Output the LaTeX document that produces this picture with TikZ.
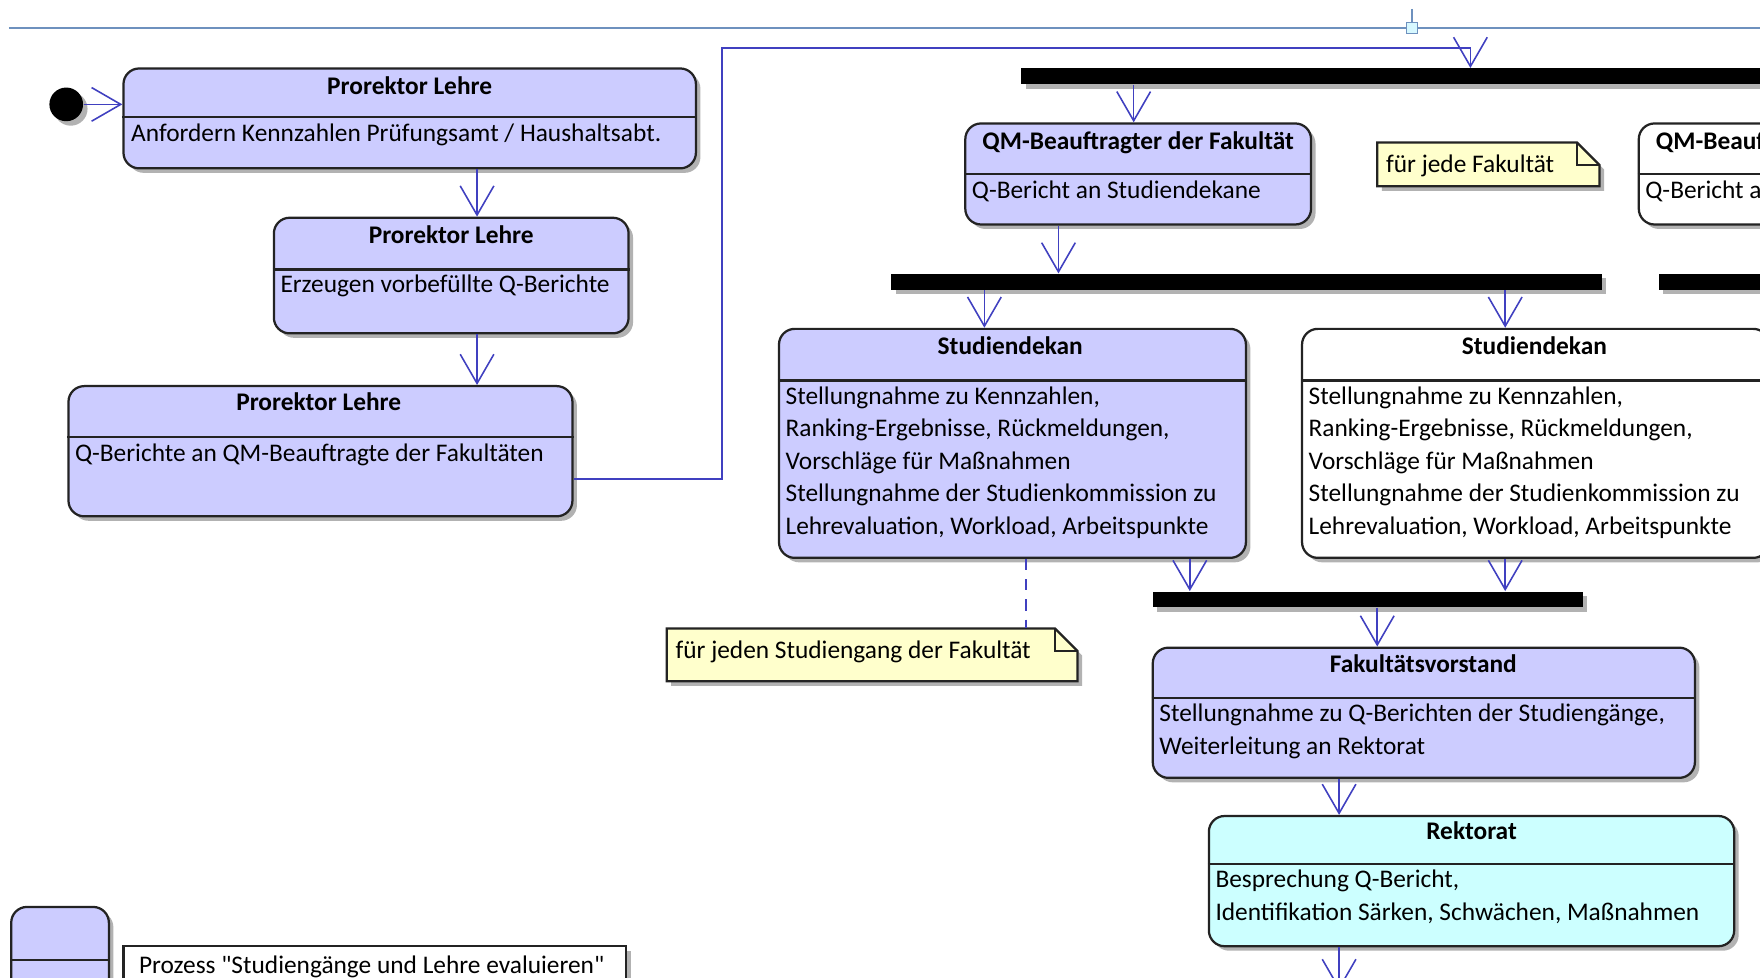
\documentclass[tikz,border=0pt]{standalone}
\usepackage{fontspec}
\setmainfont{Carlito}
\usetikzlibrary{arrows.meta,fit,shadows}

\definecolor{stateFill}{RGB}{204,204,255}
\definecolor{rektoratFill}{RGB}{204,255,255}
\definecolor{noteFill}{RGB}{255,255,204}
\definecolor{flowBlue}{RGB}{64,64,192}
\definecolor{pageLine}{RGB}{110,145,190}
\definecolor{handleFill}{RGB}{215,248,255}
\definecolor{boxLine}{RGB}{35,35,35}

\begin{document}
\begin{tikzpicture}[x=0.5pt,y=0.5pt,yscale=-1,xscale=1,
  every node/.style={font=\fontsize{11.3}{14.5}\selectfont},
  softshadow/.style={drop shadow={shadow xshift=2pt,shadow yshift=-2pt,opacity=0.3,fill=black}},
  state/.style={draw=boxLine, line width=1pt, rounded corners=7pt, fill=stateFill, inner sep=0pt, softshadow},
  divider/.style={draw=boxLine, line width=1pt},
  title/.style={anchor=base, inner sep=0.75pt, font=\fontsize{11.3}{14.5}\selectfont\bfseries},
  body/.style={anchor=base west, inner sep=0.75pt, align=left},
  bar/.style={fill=black, inner sep=0pt, softshadow},
  initial/.style={circle, fill=black, minimum size=15pt, inner sep=0pt, softshadow},
  flow/.style={draw=flowBlue, line width=0.7pt, -{Straight Barb[length=13pt,width=15pt]}},
  notelink/.style={draw=flowBlue, line width=0.7pt, dash pattern=on 5pt off 4pt},
  note/.style={draw=boxLine, line width=1pt, fill=noteFill, softshadow},
  handle/.style={draw=pageLine, fill=handleFill, line width=0.6pt, minimum size=5pt, inner sep=0pt}]

\useasboundingbox (0,0) rectangle (1568,870.5);
\fill [white] (0,0) rectangle (1568,870.5);
\clip (0,0) rectangle (1568,870.5);

%Page line with handle
\draw [pageLine, line width=0.6pt] (8,25) -- (1568,25) ;
\draw [pageLine, line width=0.6pt] (1258,8) -- (1258,21) ;
\node [handle] (hdl) at (1258,25) {} ;

%Initial state
\node [initial] (start) at (59,93) {} ;

%State: Prorektor Lehre (1)
\node [state, fit={(110,61) (620,150)}] (pl1) {} ;
\draw [divider] (pl1.west |- 0,104) -- (pl1.east |- 0,104) ;
\node [title] (pl1t) at (365,84) {Prorektor Lehre} ;
\node [body] (pl1b) at (115,126) {Anfordern Kennzahlen Prüfungsamt / Haushaltsabt.} ;

%State: Prorektor Lehre (2)
\node [state, fit={(244,194) (560,297)}] (pl2) {} ;
\draw [divider] (pl2.west |- 0,240) -- (pl2.east |- 0,240) ;
\node [title] (pl2t) at (402,217) {Prorektor Lehre} ;
\node [body] (pl2b) at (248,261) {Erzeugen vorbefüllte Q-Berichte} ;

%State: Prorektor Lehre (3)
\node [state, fit={(61,344) (510,460)}] (pl3) {} ;
\draw [divider] (pl3.west |- 0,389) -- (pl3.east |- 0,389) ;
\node [title] (pl3t) at (284,366) {Prorektor Lehre} ;
\node [body] (pl3b) at (65,411) {Q-Berichte an QM-Beauftragte der Fakultäten} ;

%Fork bars
\node [bar, fit={(910,61) (1600,75)}] (bar1) {} ;
\node [bar, fit={(794,244) (1427,258)}] (bar2) {} ;
\node [bar, fit={(1478,244) (1600,258)}] (bar3) {} ;
\node [bar, fit={(1027,527) (1410,541)}] (bar4) {} ;

%State: QM-Beauftragter (1)
\node [state, fit={(860,110) (1168,200)}] (qm1) {} ;
\draw [divider] (qm1.west |- 0,155) -- (qm1.east |- 0,155) ;
\node [title] (qm1t) at (1014,133) {QM-Beauftragter der Fakultät} ;
\node [body] (qm1b) at (864,177) {Q-Bericht an Studiendekane} ;

%State: QM-Beauftragter (2)
\node [state, fill=white, fit={(1460,110) (1768,200)}] (qm2) {} ;
\draw [divider] (qm2.west |- 0,155) -- (qm2.east |- 0,155) ;
\node [title] (qm2t) at (1614,133) {QM-Beauftragter der Fakultät} ;
\node [body] (qm2b) at (1464,177) {Q-Bericht an Studiendekane} ;

%Note: jede Fakultaet
\node [inner sep=0pt, fit={(1227,127) (1425,166)}] (note1) {} ;
\draw [note] (1227,127) -- (1405,127) -- (1425,147) -- (1425,166) -- (1227,166) -- cycle ;
\draw [draw=boxLine, line width=1pt] (1405,127) -- (1405,147) -- (1425,147) ;
\node [body] (note1t) at (1233,154) {für jede Fakultät} ;

%State: Studiendekan (1)
\node [state, fit={(694,293) (1110,497)}] (sd1) {} ;
\draw [divider] (sd1.west |- 0,339) -- (sd1.east |- 0,339) ;
\node [title] (sd1t) at (900,316) {Studiendekan} ;
\node [body] (sd1b) at (698,476) {Stellungnahme zu Kennzahlen,\\Ranking-Ergebnisse, Rückmeldungen,\\Vorschläge für Maßnahmen\\Stellungnahme der Studienkommission zu\\Lehrevaluation, Workload, Arbeitspunkte} ;

%State: Studiendekan (2)
\node [state, fill=white, fit={(1160,293) (1576,497)}] (sd2) {} ;
\draw [divider] (sd2.west |- 0,339) -- (sd2.east |- 0,339) ;
\node [title] (sd2t) at (1367,316) {Studiendekan} ;
\node [body] (sd2b) at (1164,476) {Stellungnahme zu Kennzahlen,\\Ranking-Ergebnisse, Rückmeldungen,\\Vorschläge für Maßnahmen\\Stellungnahme der Studienkommission zu\\Lehrevaluation, Workload, Arbeitspunkte} ;

%Note: jeder Studiengang
\node [inner sep=0pt, fit={(594,560) (960,607)}] (note2) {} ;
\draw [note] (594,560) -- (940,560) -- (960,580) -- (960,607) -- (594,607) -- cycle ;
\draw [draw=boxLine, line width=1pt] (940,560) -- (940,580) -- (960,580) ;
\node [body] (note2t) at (600,587) {für jeden Studiengang der Fakultät} ;

%State: Fakultaetsvorstand
\node [state, fit={(1027,577) (1510,693)}] (fv) {} ;
\draw [divider] (fv.west |- 0,622) -- (fv.east |- 0,622) ;
\node [title] (fvt) at (1268,599) {Fakultätsvorstand} ;
\node [body] (fvb) at (1031,672) {Stellungnahme zu Q-Berichten der Studiengänge,\\Weiterleitung an Rektorat} ;

%State: Rektorat
\node [state, fill=rektoratFill, fit={(1077,727) (1545,843)}] (rk) {} ;
\draw [divider] (rk.west |- 0,770) -- (rk.east |- 0,770) ;
\node [title] (rkt) at (1311,748) {Rektorat} ;
\node [body] (rkb) at (1081,820) {Besprechung Q-Bericht,\\Identifikation Särken, Schwächen, Maßnahmen} ;
\coordinate (next) at (1193,882) ;

%Legend
\node [state, fit={(10,808) (97,930)}] (lgd) {} ;
\draw [divider] (lgd.west |- 0,855) -- (lgd.east |- 0,855) ;
\node [draw=boxLine, line width=1pt, fill=white, inner sep=0pt, softshadow, fit={(110,843) (558,930)}] (proc) {} ;
\node [body] (proct) at (122,867) {Prozess \textquotedbl Studiengänge und Lehre evaluieren\textquotedbl} ;

%Transitions
\draw [flow] (start) -- (start -| pl1.west) ;
\draw [flow] (425,0 |- pl1.south) -- (425,0 |- pl2.north) ;
\draw [flow] (425,0 |- pl2.south) -- (425,0 |- pl3.north) ;
\draw [flow] (pl3.east |- 0,427) -- (643,427) -- (643,43) -- (1310,43) -- (1310,0 |- bar1.north) ;
\draw [flow] (1010,0 |- bar1.south) -- (1010,0 |- qm1.north) ;
\draw [flow] (943,0 |- qm1.south) -- (943,0 |- bar2.north) ;
\draw [flow] (877,0 |- bar2.south) -- (877,0 |- sd1.north) ;
\draw [flow] (1341,0 |- bar2.south) -- (1341,0 |- sd2.north) ;
\draw [notelink] (914,0 |- sd1.south) -- (914,0 |- note2.north) ;
\draw [flow] (1060,0 |- sd1.south) -- (1060,0 |- bar4.north) ;
\draw [flow] (1341,0 |- sd2.south) -- (1341,0 |- bar4.north) ;
\draw [flow] (1227,0 |- bar4.south) -- (1227,0 |- fv.north) ;
\draw [flow] (1193,0 |- fv.south) -- (1193,0 |- rk.north) ;
\draw [flow] (1193,0 |- rk.south) -- (next) ;

\end{tikzpicture}
\end{document}
